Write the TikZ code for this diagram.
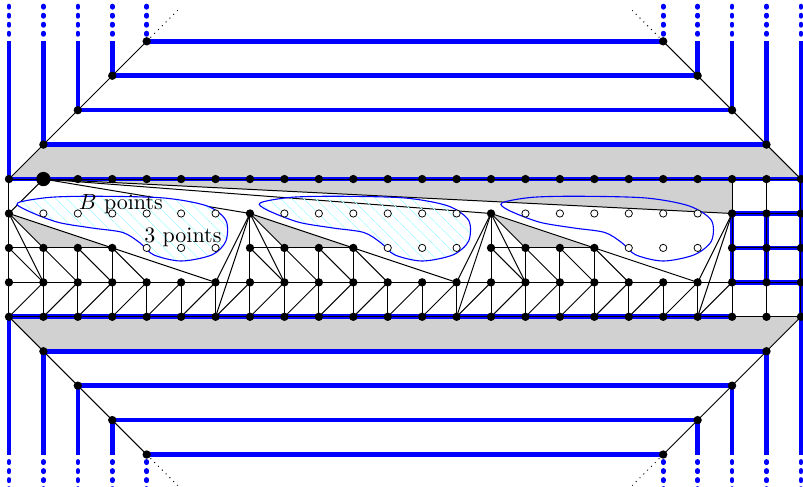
\documentclass[tikz,border=0pt]{standalone}
\usepackage{amsmath}
\usetikzlibrary{patterns.meta}

\pgfdeclarelayer{background}
\pgfdeclarelayer{blobs}
\pgfsetlayers{background,blobs,main}

\tikzset{
  dot/.style={circle,fill=black,inner sep=0pt,minimum size=3.8pt},
  bigdot/.style={circle,fill=black,inner sep=0pt,minimum size=6.5pt},
  hole/.style={circle,draw=black,fill=white,line width=0.35pt,inner sep=0pt,minimum size=3.3pt},
  wall/.style={blue,line width=2.1pt},
  wallend/.style={blue,line width=2.1pt,line cap=round,dash pattern=on 0.6pt off 3.5pt},
  edge/.style={black,line width=0.45pt},
  shade/.style={fill=black!18},
  blob/.style={blue,line width=0.5pt},
  hatch/.style={pattern={Lines[angle=-45,distance=4pt,line width=0.4pt]},pattern color=cyan!30},
}

\begin{document}
\begin{tikzpicture}[x=0.55cm,y=0.55cm]

\clip (-0.26,-4.94) rectangle (23.06,9.2);

% vertices of the band
\node[dot,alias=bl0] (v0-0) at (0,0) {};
\node[dot,alias=br0] (v23-0) at (23,0) {};
\node[dot,alias=tl0] (v0-4) at (0,4) {};
\node[dot,alias=tr0] (v23-4) at (23,4) {};
\node[bigdot] (v1-4) at (1,4) {};
\foreach \x in {1,...,22}
  \node[dot] (v\x-0) at (\x,0) {};
\foreach \x in {0,...,23}
  \node[dot] (v\x-1) at (\x,1) {};
\foreach \x in {2,...,22}
  \node[dot] (v\x-4) at (\x,4) {};
\foreach \o in {0,7,14} {
  \node[dot] (v\o-3) at (\o,3) {};
  \foreach \i in {0,...,3} {
    \pgfmathtruncatemacro\x{\o+\i}
    \node[dot] (v\x-2) at (\x,2) {};
  }
  \foreach \i in {4,5,6} {
    \pgfmathtruncatemacro\x{\o+\i}
    \node[hole] (v\x-2) at (\x,2) {};
  }
  \foreach \i in {1,...,6} {
    \pgfmathtruncatemacro\x{\o+\i}
    \node[hole] (v\x-3) at (\x,3) {};
  }
}
\foreach \x in {21,22,23} {
  \node[dot] (v\x-2) at (\x,2) {};
  \node[dot] (v\x-3) at (\x,3) {};
}

% staircases
\foreach \k in {1,...,4} {
  \pgfmathtruncatemacro\r{23-\k}
  \node[dot] (tl\k) at (\k,4+\k) {};
  \node[dot] (tr\k) at (\r,4+\k) {};
  \node[dot] (bl\k) at (\k,-\k) {};
  \node[dot] (br\k) at (\r,-\k) {};
}

% labels
\node (bpts) at (3.25,3.28) {$B$ points};
\node (tpts) at (5.05,2.32) {3 points};

\begin{pgfonlayer}{background}
% grey regions
\fill[shade] (tl0.center) -- (tl1.center) -- (tr1.center) -- (tr0.center) -- cycle;
\fill[shade] (bl0.center) -- (bl1.center) -- (br1.center) -- (br0.center) -- cycle;
\fill[shade] (v1-4.center) -- (v21-4.center) -- (v21-3.center) -- cycle;
\foreach \o in {0,7,14} {
  \pgfmathtruncatemacro\a{\o+1}
  \pgfmathtruncatemacro\c{\o+3}
  \fill[shade] (v\o-3.center) -- (v\a-2.center) -- (v\c-2.center) -- cycle;
}

% blue walls
\draw[wall] (tl0.center) -- (tr0.center);
\draw[wall] (bl0.center) -- (v21-0.center);
\draw[wall] (br0.center) -- (tr0.center);
\foreach \y in {1,2,3}
  \draw[wall] (v21-\y.center) -- (v23-\y.center);
\draw[wall] (v21-1.center) -- (v21-3.center);
\draw[wall] (v22-1.center) -- (v22-3.center);
\foreach \k in {1,...,4} {
  \draw[wall] (tl\k.center) -- (tr\k.center);
  \draw[wall] (bl\k.center) -- (br\k.center);
}
\foreach \k in {0,...,3} {
  \pgfmathsetmacro\h{4-\k}
  \draw[wall] (tl\k.center) -- ++(0,\h);
  \draw[wall] (tr\k.center) -- ++(0,\h);
  \draw[wall] (bl\k.center) -- ++(0,-\h);
  \draw[wall] (br\k.center) -- ++(0,-\h);
}
\foreach \k in {0,...,4} {
  \pgfmathsetmacro\h{4.2-\k}
  \draw[wallend] (tl\k.center) ++(0,\h) -- ++(0,0.9);
  \draw[wallend] (tr\k.center) ++(0,\h) -- ++(0,0.9);
  \draw[wallend] (bl\k.center) ++(0,-\h) -- ++(0,-0.9);
  \draw[wallend] (br\k.center) ++(0,-\h) -- ++(0,-0.9);
}

% staircase diagonals
\draw[edge] (tl0.center) -- (tl4.center);
\draw[edge] (tr0.center) -- (tr4.center);
\draw[edge] (bl0.center) -- (bl4.center);
\draw[edge] (br0.center) -- (br4.center);
\draw[edge,dotted] (tl4.center) -- ++(0.9,0.9);
\draw[edge,dotted] (tr4.center) -- ++(-0.9,0.9);
\draw[edge,dotted] (bl4.center) -- ++(0.9,-0.9);
\draw[edge,dotted] (br4.center) -- ++(-0.9,-0.9);

% rows and columns
\foreach \y in {0,1,4}
  \draw[edge] (v0-\y.center) -- (v23-\y.center);
\draw[edge] (v21-2.center) -- (v23-2.center);
\draw[edge] (v21-3.center) -- (v23-3.center);
\draw[edge] (v0-0.center) -- (v0-4.center);
\foreach \x in {21,22,23}
  \draw[edge] (v\x-0.center) -- (v\x-4.center);
\foreach \x in {0,...,20} {
  \pgfmathtruncatemacro\n{\x+1}
  \draw[edge] (v\x-0.center) -- (v\n-1.center);
}

% the three fans
\foreach \o in {0,7,14} {
  \pgfmathtruncatemacro\a{\o+1}
  \pgfmathtruncatemacro\c{\o+3}
  \pgfmathtruncatemacro\f{\o+6}
  \draw[edge] (v\o-0.center) -- (v\o-3.center);
  \draw[edge] (v\o-2.center) -- (v\c-2.center);
  \draw[edge] (v\o-3.center) -- (v\a-2.center);
  \draw[edge] (v\o-3.center) -- (v\a-1.center);
  \draw[edge] (v\o-3.center) -- (v\f-1.center);
  \foreach \i in {1,2,3} {
    \pgfmathtruncatemacro\x{\o+\i}
    \draw[edge] (v\x-0.center) -- (v\x-2.center);
  }
  \foreach \i in {4,5,6} {
    \pgfmathtruncatemacro\x{\o+\i}
    \draw[edge] (v\x-0.center) -- (v\x-1.center);
  }
  \foreach \i in {0,...,3} {
    \pgfmathtruncatemacro\x{\o+\i}
    \pgfmathtruncatemacro\n{\o+\i+1}
    \draw[edge] (v\x-2.center) -- (v\n-1.center);
  }
}
\foreach \o in {7,14,21} {
  \pgfmathtruncatemacro\p{\o-1}
  \draw[edge] (v\o-3.center) -- (v\p-1.center);
  \draw[edge] (v\o-3.center) -- (v\p-0.center);
}
\foreach \o in {0,7,14,21}
  \draw[edge] (v1-4.center) -- (v\o-3.center);
\end{pgfonlayer}

\begin{pgfonlayer}{blobs}
% point sets
\draw[blob,hatch,preaction={fill=white}] plot[smooth cycle] coordinates {(0.26,3.31) (1.2,3.47) (2.6,3.5) (4.5,3.45) (5.75,3.22) (6.3,2.8) (6.3,2.2) (5.9,1.8) (5.0,1.62) (4.2,1.8) (3.8,2.15) (3.3,2.45) (2.4,2.58) (1.4,2.75) (0.5,3.1)};
\draw[blob,hatch,shift={(7,0)}] plot[smooth cycle] coordinates {(0.3,3.31) (1.2,3.47) (2.6,3.5) (4.5,3.45) (5.75,3.22) (6.35,2.8) (6.35,2.2) (5.9,1.8) (5.0,1.62) (4.2,1.8) (3.8,2.15) (3.3,2.45) (2.4,2.58) (1.4,2.75) (0.5,3.1)};
\draw[blob,shift={(14,0)}] plot[smooth cycle] coordinates {(0.32,3.31) (1.2,3.47) (2.6,3.5) (4.5,3.45) (5.75,3.22) (6.4,2.8) (6.4,2.2) (5.9,1.8) (5.0,1.62) (4.2,1.8) (3.8,2.15) (3.3,2.45) (2.4,2.58) (1.4,2.75) (0.5,3.1)};
\end{pgfonlayer}

\end{tikzpicture}
\end{document}
